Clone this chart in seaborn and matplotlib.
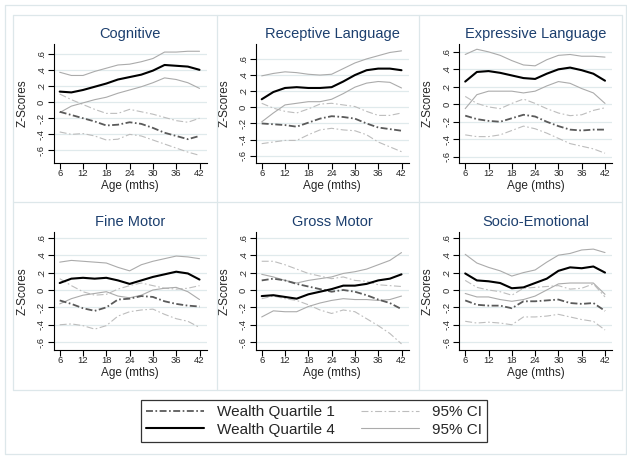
import numpy as np
import pandas as pd
import matplotlib
matplotlib.use("Agg")
import matplotlib.pyplot as plt
import seaborn as sns
from matplotlib.lines import Line2D
from matplotlib.ticker import FuncFormatter

# --- Data (ages 6..42 months) ---
ages = [6, 9, 12, 15, 18, 21, 24, 27, 30, 33, 36, 39, 42]
panels = ["Cognitive", "Receptive Language", "Expressive Language",
          "Fine Motor", "Gross Motor", "Socio-Emotional"]

cog_q4 = [0.13, 0.12, 0.15, 0.19, 0.23, 0.28, 0.31, 0.34, 0.39, 0.46, 0.45, 0.44, 0.40]
cog_q4_hi = [0.37, 0.33, 0.33, 0.38, 0.42, 0.46, 0.47, 0.50, 0.54, 0.62, 0.62, 0.63, 0.63]
cog_q4_lo = [-0.13, -0.05, -0.01, 0.03, 0.06, 0.11, 0.15, 0.19, 0.24, 0.30, 0.28, 0.24, 0.17]
cog_q1 = [-0.12, -0.16, -0.20, -0.24, -0.29, -0.28, -0.25, -0.27, -0.32, -0.38, -0.42, -0.46, -0.42]
cog_q1_hi = [0.10, 0.03, -0.03, -0.09, -0.14, -0.14, -0.09, -0.12, -0.15, -0.19, -0.23, -0.25, -0.20]
cog_q1_lo = [-0.37, -0.40, -0.39, -0.42, -0.47, -0.46, -0.40, -0.42, -0.47, -0.52, -0.57, -0.62, -0.66]

rec_q4 = [0.10, 0.19, 0.24, 0.25, 0.24, 0.24, 0.25, 0.32, 0.40, 0.46, 0.48, 0.48, 0.46]
rec_q4_hi = [0.39, 0.42, 0.44, 0.43, 0.41, 0.40, 0.41, 0.48, 0.55, 0.60, 0.64, 0.68, 0.70]
rec_q4_lo = [-0.18, -0.07, 0.03, 0.05, 0.07, 0.07, 0.10, 0.17, 0.25, 0.30, 0.32, 0.31, 0.24]
rec_q1 = [-0.20, -0.21, -0.22, -0.24, -0.19, -0.14, -0.11, -0.12, -0.14, -0.20, -0.25, -0.27, -0.29]
rec_q1_hi = [0.05, -0.01, -0.05, -0.07, -0.02, 0.04, 0.05, 0.03, 0.01, -0.05, -0.10, -0.10, -0.07]
rec_q1_lo = [-0.45, -0.43, -0.41, -0.41, -0.34, -0.28, -0.26, -0.28, -0.29, -0.34, -0.43, -0.49, -0.55]

exp_q4 = [0.26, 0.37, 0.38, 0.36, 0.33, 0.30, 0.29, 0.35, 0.40, 0.42, 0.39, 0.35, 0.27]
exp_q4_hi = [0.57, 0.63, 0.60, 0.56, 0.50, 0.45, 0.44, 0.51, 0.56, 0.57, 0.55, 0.55, 0.54]
exp_q4_lo = [-0.05, 0.11, 0.15, 0.15, 0.15, 0.13, 0.15, 0.21, 0.26, 0.24, 0.18, 0.13, 0.01]
exp_q1 = [-0.13, -0.17, -0.19, -0.20, -0.16, -0.12, -0.14, -0.20, -0.25, -0.29, -0.30, -0.29, -0.29]
exp_q1_hi = [0.09, 0.01, -0.03, -0.05, 0.01, 0.06, 0.01, -0.05, -0.10, -0.13, -0.12, -0.07, -0.04]
exp_q1_lo = [-0.35, -0.37, -0.37, -0.35, -0.30, -0.25, -0.28, -0.33, -0.39, -0.45, -0.48, -0.51, -0.56]

fin_q4 = [0.08, 0.13, 0.14, 0.13, 0.14, 0.11, 0.07, 0.11, 0.15, 0.18, 0.21, 0.19, 0.12]
fin_q4_hi = [0.32, 0.34, 0.33, 0.32, 0.31, 0.26, 0.22, 0.29, 0.33, 0.36, 0.39, 0.38, 0.36]
fin_q4_lo = [-0.16, -0.10, -0.06, -0.04, -0.02, -0.07, -0.09, -0.06, 0.00, 0.02, 0.03, -0.02, -0.11]
fin_q1 = [-0.12, -0.16, -0.21, -0.24, -0.20, -0.11, -0.10, -0.07, -0.08, -0.13, -0.16, -0.18, -0.19]
fin_q1_hi = [0.13, 0.05, -0.02, -0.06, -0.05, 0.01, 0.05, 0.08, 0.05, 0.02, 0.01, 0.02, 0.05]
fin_q1_lo = [-0.40, -0.39, -0.41, -0.45, -0.41, -0.30, -0.25, -0.23, -0.22, -0.28, -0.33, -0.36, -0.43]

gro_q4 = [-0.07, -0.06, -0.08, -0.10, -0.05, -0.02, 0.01, 0.05, 0.05, 0.07, 0.11, 0.13, 0.18]
gro_q4_hi = [0.18, 0.15, 0.11, 0.08, 0.11, 0.13, 0.15, 0.19, 0.21, 0.24, 0.29, 0.34, 0.43]
gro_q4_lo = [-0.31, -0.24, -0.25, -0.25, -0.19, -0.15, -0.12, -0.10, -0.11, -0.11, -0.12, -0.11, -0.07]
gro_q1 = [0.11, 0.13, 0.11, 0.07, 0.04, 0.01, -0.02, 0.00, -0.02, -0.06, -0.11, -0.15, -0.22]
gro_q1_hi = [0.33, 0.33, 0.29, 0.24, 0.19, 0.16, 0.13, 0.15, 0.11, 0.10, 0.06, 0.05, 0.04]
gro_q1_lo = [-0.10, -0.07, -0.10, -0.12, -0.17, -0.23, -0.27, -0.23, -0.25, -0.33, -0.41, -0.50, -0.62]

soc_q4 = [0.19, 0.11, 0.10, 0.08, 0.02, 0.03, 0.08, 0.13, 0.22, 0.26, 0.25, 0.27, 0.20]
soc_q4_hi = [0.41, 0.31, 0.26, 0.22, 0.16, 0.20, 0.23, 0.32, 0.40, 0.42, 0.46, 0.47, 0.43]
soc_q4_lo = [-0.04, -0.08, -0.08, -0.11, -0.13, -0.11, -0.07, 0.00, 0.07, 0.08, 0.08, 0.08, -0.05]
soc_q1 = [-0.12, -0.17, -0.18, -0.18, -0.21, -0.13, -0.13, -0.12, -0.11, -0.15, -0.16, -0.15, -0.24]
soc_q1_hi = [0.11, 0.03, 0.00, -0.02, -0.06, 0.02, 0.03, 0.04, 0.05, 0.01, 0.02, 0.07, -0.08]
soc_q1_lo = [-0.36, -0.38, -0.37, -0.38, -0.40, -0.31, -0.31, -0.30, -0.28, -0.31, -0.34, -0.36, -0.46]

panel_data = {
    "Cognitive": (cog_q1, cog_q1_lo, cog_q1_hi, cog_q4, cog_q4_lo, cog_q4_hi),
    "Receptive Language": (rec_q1, rec_q1_lo, rec_q1_hi, rec_q4, rec_q4_lo, rec_q4_hi),
    "Expressive Language": (exp_q1, exp_q1_lo, exp_q1_hi, exp_q4, exp_q4_lo, exp_q4_hi),
    "Fine Motor": (fin_q1, fin_q1_lo, fin_q1_hi, fin_q4, fin_q4_lo, fin_q4_hi),
    "Gross Motor": (gro_q1, gro_q1_lo, gro_q1_hi, gro_q4, gro_q4_lo, gro_q4_hi),
    "Socio-Emotional": (soc_q1, soc_q1_lo, soc_q1_hi, soc_q4, soc_q4_lo, soc_q4_hi),
}
series_names = ["q1", "q1_lo", "q1_hi", "q4", "q4_lo", "q4_hi"]

rows = []
for p in panels:
    for s, vals in zip(series_names, panel_data[p]):
        for a, v in zip(ages, vals):
            rows.append((p, s, a, v))
df = pd.DataFrame(rows, columns=["panel", "series", "age", "z"])

# --- Style ---
sns.set_style("ticks")
plt.rcParams["font.family"] = ["Liberation Sans", "DejaVu Sans"]
plt.rcParams["lines.scale_dashes"] = False

DASHDOT = (0, (5, 1.8, 1.2, 1.8))
styles = {
    "q1": dict(color="#5a5a5a", lw=1.3, ls=DASHDOT),
    "q1_lo": dict(color="#bdbdbd", lw=0.8, ls=DASHDOT),
    "q1_hi": dict(color="#bdbdbd", lw=0.8, ls=DASHDOT),
    "q4": dict(color="black", lw=1.5, ls="-"),
    "q4_lo": dict(color="#ababab", lw=0.8, ls="-"),
    "q4_hi": dict(color="#ababab", lw=0.8, ls="-"),
}

W, H = 627, 459
fig = plt.figure(figsize=(W / 100, H / 100), dpi=100)
fig.patch.set_facecolor("white")


def px_box(l, t, r, b):
    return [l / W, 1 - b / H, (r - l) / W, (b - t) / H]


def px_line(x0, y0, x1, y1, color="#dde7ea"):
    fig.add_artist(Line2D([x0 / W, x1 / W], [1 - y0 / H, 1 - y1 / H],
                          transform=fig.transFigure, color=color, lw=0.9))


# outer frame and panel cells
for (x0, y0, x1, y1) in [(5, 5, 626, 5), (5, 5, 5, 454), (5, 454, 626, 454), (626, 5, 626, 454)]:
    px_line(x0, y0, x1, y1)
for x in [13, 217, 419, 622]:
    px_line(x, 15, x, 390)
for y in [15, 202, 390]:
    px_line(13, y, 622, y)

lefts = [53.5, 255.5, 459]
tops = [44, 231.7]
bottoms = [163, 350]
ylims = [(-0.755, 0.72), (-0.69, 0.785), (-0.672, 0.69),
         (-0.69, 0.67), (-0.69, 0.67), (-0.69, 0.67)]

fmt = FuncFormatter(lambda v, _: "0" if abs(v) < 1e-9 else f"{v:.1f}".replace("0.", "."))

for i, p in enumerate(panels):
    r, c = divmod(i, 3)
    ax = fig.add_axes(px_box(lefts[c], tops[r], lefts[c] + 153, bottoms[r]))
    sub = df[df["panel"] == p]
    for s in ["q1_lo", "q1_hi", "q4_lo", "q4_hi", "q1", "q4"]:
        d = sub[sub["series"] == s]
        st = styles[s]
        sns.lineplot(data=d, x="age", y="z", ax=ax, color=st["color"],
                     linewidth=st["lw"], linestyle=st["ls"])
    ax.set_xlim(4.4, 43.8)
    ax.set_ylim(*ylims[i])
    ax.set_xticks([6, 12, 18, 24, 30, 36, 42])
    ax.set_yticks([-0.6, -0.4, -0.2, 0, 0.2, 0.4, 0.6])
    ax.yaxis.set_major_formatter(fmt)
    ax.grid(axis="y", color="#e0eaec", lw=0.9)
    ax.set_axisbelow(True)
    for sp in ["top", "right"]:
        ax.spines[sp].set_visible(False)
    for sp in ["left", "bottom"]:
        ax.spines[sp].set_color("black")
        ax.spines[sp].set_linewidth(0.8)
    ax.tick_params(axis="both", length=4, width=0.8, color="black", labelsize=6.8)
    ax.tick_params(axis="x", pad=0.3)
    ax.tick_params(axis="y", pad=1.4)
    for lab in ax.get_yticklabels():
        lab.set_rotation(90)
        lab.set_va("center")
    ax.set_title(p, color="#1c3f6e", fontsize=10.5, pad=4)
    ax.set_xlabel("Age (mths)", fontsize=8.5)
    ax.set_ylabel("Z-Scores", fontsize=8.5)
    ax.xaxis.set_label_coords(0.5, -0.14)
    ax.yaxis.set_label_coords(-0.163, 0.5)


def handle(key):
    st = styles[key]
    return Line2D([], [], color=st["color"], lw=st["lw"], ls=st["ls"])


handles = [handle("q1"), handle("q4"), handle("q1_lo"), handle("q4_lo")]
labels = ["Wealth Quartile 1", "Wealth Quartile 4", "95% CI", "95% CI"]
leg = fig.legend(handles, labels, ncol=2, loc="center", bbox_to_anchor=(314 / W, 1 - 421 / H),
                 fontsize=11, frameon=True, fancybox=False, edgecolor="black",
                 handlelength=3.8, handletextpad=0.8, columnspacing=1.75,
                 labelspacing=0.2, borderpad=0.35, borderaxespad=0)
leg.get_frame().set_linewidth(0.9)

fig.savefig("out.png", dpi=100)
